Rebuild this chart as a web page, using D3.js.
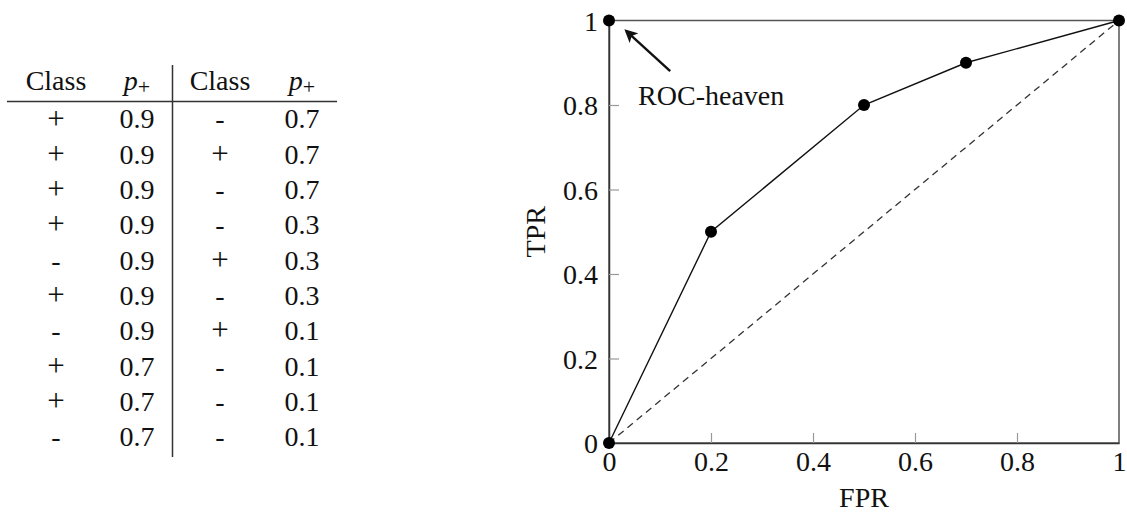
<!DOCTYPE html>
<html>
<head>
<meta charset="utf-8">
<script src="https://cdn.jsdelivr.net/npm/d3@7"></script>
<style>
  html, body { margin: 0; padding: 0; background: #fff; }
  svg text { font-family: "Liberation Serif", "DejaVu Serif", serif; fill: #111; }
</style>
</head>
<body>
<div id="chart"></div>
<script>
// table data
const classLeft = ['+', '+', '+', '+', '-', '+', '-', '+', '+', '-'];
const probLeft = [0.9, 0.9, 0.9, 0.9, 0.9, 0.9, 0.9, 0.7, 0.7, 0.7];
const classRight = ['-', '+', '-', '-', '+', '-', '+', '-', '-', '-'];
const probRight = [0.7, 0.7, 0.7, 0.3, 0.3, 0.3, 0.1, 0.1, 0.1, 0.1];

// ROC curve data
const fpr = [0, 0.2, 0.5, 0.7, 1];
const tpr = [0, 0.5, 0.8, 0.9, 1];
const heaven = [0, 1];
const tickValues = [0, 0.2, 0.4, 0.6, 0.8, 1];

const FS = 28;

const svg = d3.select('#chart')
    .append('svg')
    .attr('width', 1127)
    .attr('height', 515);

// ---- table ----
const table = svg.append('g');
const rowY = d3.scaleBand()
    .domain(d3.range(classLeft.length))
    .range([101, 454]);
const colX = [56, 137, 220, 302];

const headers = ['Class', 'p', 'Class', 'p'];
headers.forEach((h, i) => {
    const t = table.append('text')
        .attr('x', colX[i])
        .attr('y', 90)
        .attr('text-anchor', 'middle')
        .attr('font-size', FS);
    if (h === 'p') {
        t.append('tspan').attr('font-style', 'italic').text('p');
        t.append('tspan').attr('font-size', 22).attr('dy', 4).text('+');
    } else {
        t.text(h);
    }
});

table.append('line')
    .attr('x1', 7).attr('x2', 337)
    .attr('y1', 101.5).attr('y2', 101.5)
    .attr('stroke', '#333').attr('stroke-width', 1.5);

table.append('line')
    .attr('x1', 172.5).attr('x2', 172.5)
    .attr('y1', 65).attr('y2', 457)
    .attr('stroke', '#333').attr('stroke-width', 1.5);

const cols = [classLeft, probLeft, classRight, probRight];
cols.forEach((col, ci) => {
    table.selectAll('.c' + ci)
        .data(col)
        .enter()
        .append('text')
        .attr('class', 'c' + ci)
        .attr('x', colX[ci])
        .attr('y', (d, i) => rowY(i) + rowY.bandwidth() / 2)
        .attr('dy', d => d === '+' ? '0.32em' : '0.35em')
        .attr('text-anchor', 'middle')
        .attr('font-size', d => d === '+' ? 31 : FS)
        .text(d => typeof d === 'number' ? d.toFixed(1) : d);
});

// ---- ROC plot ----
const x = d3.scaleLinear().domain([0, 1]).range([609, 1119]);
const y = d3.scaleLinear().domain([0, 1]).range([443, 20.5]);
const fmt = d => (d === 0 || d === 1) ? String(d) : d.toFixed(1);

const plot = svg.append('g');

// frame
plot.append('rect')
    .attr('x', x(0)).attr('y', y(1))
    .attr('width', x(1) - x(0)).attr('height', y(0) - y(1))
    .attr('fill', 'none').attr('stroke', '#555').attr('stroke-width', 1.5);

const xAxis = plot.append('g')
    .attr('transform', `translate(0,${y(0)})`)
    .call(d3.axisBottom(x).tickValues(tickValues).tickFormat(fmt).tickSizeInner(-10).tickSizeOuter(0));
const yAxis = plot.append('g')
    .attr('transform', `translate(${x(0)},0)`)
    .call(d3.axisLeft(y).tickValues(tickValues).tickFormat(fmt).tickSizeInner(-10).tickSizeOuter(0));

[xAxis, yAxis].forEach(a => {
    a.attr('font-family', null).attr('font-size', null);
    a.select('.domain').attr('stroke', '#333').attr('stroke-width', 1.5);
    a.selectAll('.tick line').attr('stroke', '#999').attr('stroke-width', 1.2);
    a.selectAll('.tick text')
        .attr('font-size', FS)
        .attr('fill', '#111');
});
yAxis.selectAll('.tick text').attr('x', -11).attr('dy', '0.34em');
xAxis.selectAll('.tick text').attr('y', 8).attr('dy', '0.72em');
// hide the end ticks sitting on the frame
xAxis.selectAll('.tick').filter(d => d === 0 || d === 1).select('line').remove();
yAxis.selectAll('.tick').filter(d => d === 0 || d === 1).select('line').remove();

// diagonal
plot.append('line')
    .attr('x1', x(0)).attr('y1', y(0))
    .attr('x2', x(1)).attr('y2', y(1))
    .attr('stroke', '#333').attr('stroke-width', 1.3)
    .attr('stroke-dasharray', '7,5');

// ROC curve
const line = d3.line().x(d => x(d[0])).y(d => y(d[1]));
const pts = fpr.map((f, i) => [f, tpr[i]]);
plot.append('path')
    .datum(pts)
    .attr('d', line)
    .attr('fill', 'none')
    .attr('stroke', '#111')
    .attr('stroke-width', 1.4);

plot.selectAll('.pt')
    .data(pts.concat([heaven]))
    .enter()
    .append('circle')
    .attr('class', 'pt')
    .attr('cx', d => x(d[0]))
    .attr('cy', d => y(d[1]))
    .attr('r', 6)
    .attr('fill', '#000');

// ROC-heaven annotation
svg.append('defs').append('marker')
    .attr('id', 'arrow')
    .attr('viewBox', '0 0 10 10')
    .attr('refX', 8).attr('refY', 5)
    .attr('markerWidth', 5.5).attr('markerHeight', 5.5)
    .attr('orient', 'auto')
    .append('path')
    .attr('d', 'M0,0 L10,5 L0,10 L2.5,5 z')
    .attr('fill', '#111');

plot.append('line')
    .attr('x1', x(0.12)).attr('y1', y(0.88))
    .attr('x2', x(0.034)).attr('y2', y(0.975))
    .attr('stroke', '#111').attr('stroke-width', 2.4)
    .attr('marker-end', 'url(#arrow)');

plot.append('text')
    .attr('x', x(0.057))
    .attr('y', y(0.8))
    .attr('font-size', FS)
    .text('ROC-heaven');

// axis titles
plot.append('text')
    .attr('x', (x(0) + x(1)) / 2)
    .attr('y', 507)
    .attr('text-anchor', 'middle')
    .attr('font-size', FS)
    .text('FPR');

plot.append('text')
    .attr('transform', `translate(545,${y(0.5)}) rotate(-90)`)
    .attr('text-anchor', 'middle')
    .attr('font-size', FS)
    .text('TPR');
</script>
</body>
</html>
